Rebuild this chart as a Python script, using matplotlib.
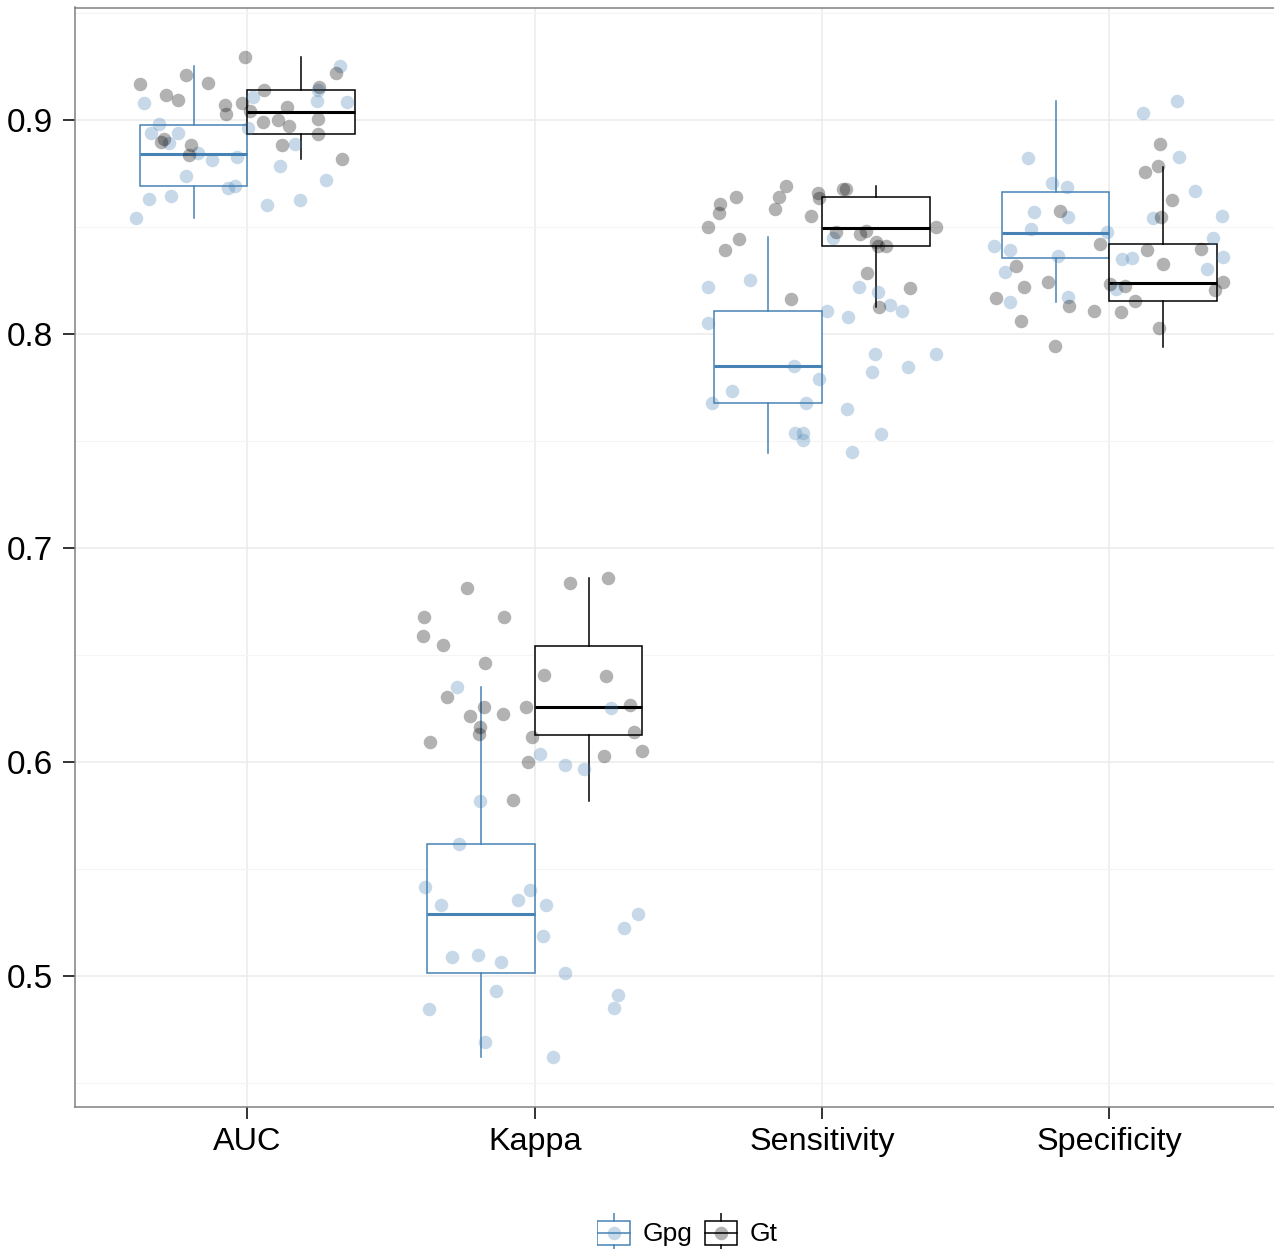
import numpy as np
import matplotlib
matplotlib.use("Agg")
import matplotlib.pyplot as plt
from matplotlib.patches import Rectangle

plt.rcParams["font.family"] = ["Liberation Sans", "DejaVu Sans"]

metrics = ["AUC", "Kappa", "Sensitivity", "Specificity"]
groups = ["Gpg", "Gt"]

# resampled values (25 per metric and group)
gpg_auc = [0.9081, 0.8980, 0.8938, 0.8938, 0.8891, 0.8844, 0.8813, 0.8826, 0.8738, 0.8629,
           0.8646, 0.8543, 0.8684, 0.8693, 0.8603, 0.8626, 0.8720, 0.8785, 0.8886, 0.8961,
           0.9109, 0.9090, 0.9140, 0.9086, 0.9252]
gt_auc = [0.9167, 0.9210, 0.9172, 0.9296, 0.9117, 0.9093, 0.9070, 0.9028, 0.9081, 0.9043,
          0.9140, 0.9059, 0.8991, 0.9000, 0.8972, 0.9156, 0.9218, 0.9005, 0.8935, 0.8883,
          0.8819, 0.8911, 0.8896, 0.8883, 0.8836]
gpg_kappa = [0.6352, 0.6036, 0.5986, 0.5966, 0.6254, 0.5819, 0.5618, 0.5414, 0.5330, 0.5355,
             0.5402, 0.5330, 0.5186, 0.5089, 0.5100, 0.5064, 0.5015, 0.4928, 0.4844, 0.4690,
             0.4621, 0.5291, 0.5223, 0.4910, 0.4852]
gt_kappa = [0.6815, 0.6679, 0.6679, 0.6589, 0.6545, 0.6463, 0.6304, 0.6215, 0.6258, 0.6224,
            0.6258, 0.6162, 0.6129, 0.6092, 0.6115, 0.6000, 0.5822, 0.6838, 0.6858, 0.6407,
            0.6402, 0.6265, 0.6140, 0.6028, 0.6051]
gpg_sens = [0.8447, 0.8221, 0.8252, 0.8050, 0.8221, 0.8195, 0.8136, 0.8107, 0.8106, 0.8078,
            0.7907, 0.7907, 0.7847, 0.7821, 0.7850, 0.7791, 0.7735, 0.7679, 0.7679, 0.7648,
            0.7536, 0.7536, 0.7505, 0.7533, 0.7447]
gt_sens = [0.8693, 0.8639, 0.8606, 0.8567, 0.8639, 0.8586, 0.8499, 0.8444, 0.8391, 0.8550,
           0.8657, 0.8637, 0.8676, 0.8676, 0.8478, 0.8466, 0.8481, 0.8431, 0.8413, 0.8411,
           0.8499, 0.8286, 0.8215, 0.8128, 0.8162]
gpg_spec = [0.9031, 0.9090, 0.8829, 0.8821, 0.8668, 0.8707, 0.8686, 0.8571, 0.8548, 0.8489,
            0.8478, 0.8543, 0.8553, 0.8447, 0.8413, 0.8393, 0.8364, 0.8350, 0.8357, 0.8358,
            0.8304, 0.8291, 0.8151, 0.8174, 0.8209]
gt_spec = [0.8886, 0.8785, 0.8756, 0.8626, 0.8545, 0.8573, 0.8421, 0.8319, 0.8391, 0.8399,
           0.8329, 0.8242, 0.8218, 0.8167, 0.8132, 0.8109, 0.8061, 0.7944, 0.8232, 0.8224,
           0.8154, 0.8103, 0.8029, 0.8242, 0.8206]

# horizontal jitter of each point (in category units), as seen in the picture
gpg_auc_jit = [-0.359, -0.309, -0.335, -0.243, -0.274, -0.173, -0.123, -0.036, -0.213, -0.344,
               -0.265, -0.387, -0.069, -0.043, 0.067, 0.183, 0.274, 0.114, 0.167, 0.001,
               0.018, 0.243, 0.245, 0.347, 0.324]
gt_auc_jit = [-0.373, -0.213, -0.138, -0.007, -0.285, -0.240, -0.077, -0.073, -0.018, 0.010,
              0.057, 0.138, 0.053, 0.107, 0.144, 0.248, 0.309, 0.244, 0.245, 0.121,
              0.330, -0.289, -0.300, -0.196, -0.202]
gpg_kappa_jit = [-0.269, 0.017, 0.107, 0.170, 0.265, -0.191, -0.264, -0.382, -0.325, -0.058,
                 -0.017, 0.039, 0.030, -0.289, -0.198, -0.116, 0.104, -0.134, -0.369, -0.174,
                 0.065, 0.360, 0.309, 0.289, 0.275]
gt_kappa_jit = [-0.236, -0.386, -0.108, -0.388, -0.318, -0.174, -0.304, -0.226, -0.176, -0.111,
                -0.032, -0.191, -0.194, -0.363, -0.009, -0.024, -0.074, 0.123, 0.254, 0.031,
                0.248, 0.331, 0.347, 0.240, 0.373]
gpg_sens_jit = [0.037, -0.396, -0.251, -0.396, 0.129, 0.196, 0.237, 0.278, 0.018, 0.090,
                0.184, 0.397, 0.298, 0.175, -0.097, -0.009, -0.314, -0.382, -0.056, 0.087,
                -0.093, -0.065, -0.065, 0.205, 0.105]
gt_sens_jit = [-0.127, -0.299, -0.355, -0.360, -0.151, -0.163, -0.396, -0.288, -0.339, -0.038,
               -0.015, -0.009, 0.072, 0.084, 0.049, 0.132, 0.152, 0.188, 0.196, 0.222,
               0.396, 0.158, 0.307, 0.199, -0.108]
gpg_spec_jit = [0.117, 0.237, 0.243, -0.282, 0.299, -0.201, -0.149, -0.263, -0.143, -0.273,
                -0.009, 0.151, 0.391, 0.360, -0.400, -0.346, -0.178, 0.044, 0.078, 0.394,
                0.339, -0.362, -0.346, -0.144, 0.023]
gt_spec_jit = [0.175, 0.170, 0.124, 0.217, 0.179, -0.171, -0.031, -0.325, 0.132, 0.318,
               0.188, -0.212, -0.298, -0.394, -0.142, -0.052, -0.306, -0.191, 0.003, 0.056,
               0.088, 0.039, 0.172, 0.394, 0.369]

# box statistics per metric: lower whisker, q1, median, q3, upper whisker
gpg_whislo = [0.8543, 0.4621, 0.7445, 0.8148]
gpg_q1 = [0.8692, 0.5015, 0.7676, 0.8354]
gpg_med = [0.8843, 0.5290, 0.7850, 0.8473]
gpg_q3 = [0.8975, 0.5618, 0.8106, 0.8665]
gpg_whishi = [0.9252, 0.6352, 0.8452, 0.9090]
gt_whislo = [0.8818, 0.5819, 0.8128, 0.7941]
gt_q1 = [0.8933, 0.6128, 0.8410, 0.8153]
gt_med = [0.9039, 0.6258, 0.8495, 0.8238]
gt_q3 = [0.9139, 0.6543, 0.8639, 0.8421]
gt_whishi = [0.9293, 0.6858, 0.8692, 0.8782]

gpg_vals = [gpg_auc, gpg_kappa, gpg_sens, gpg_spec]
gt_vals = [gt_auc, gt_kappa, gt_sens, gt_spec]
gpg_jit = [gpg_auc_jit, gpg_kappa_jit, gpg_sens_jit, gpg_spec_jit]
gt_jit = [gt_auc_jit, gt_kappa_jit, gt_sens_jit, gt_spec_jit]

blue = "#4682B4"
dark = "black"

W, H = 1274, 1249
fig = plt.figure(figsize=(W / 100, H / 100), dpi=100)
ax = fig.add_axes([75 / W, (H - 1106.5) / H, 1206.8 / W, (1106.5 - 7.5) / H])

xpos = np.arange(1, len(metrics) + 1)


def box_stats(lo, q1, med, q3, hi):
    return [dict(whislo=a, q1=b, med=c, q3=d, whishi=e, fliers=[])
            for a, b, c, d, e in zip(lo, q1, med, q3, hi)]


for stats, offset, col in [
        (box_stats(gpg_whislo, gpg_q1, gpg_med, gpg_q3, gpg_whishi), -0.1875, blue),
        (box_stats(gt_whislo, gt_q1, gt_med, gt_q3, gt_whishi), 0.1875, dark)]:
    ax.bxp(stats, positions=xpos + offset, widths=0.375, showcaps=False,
           showfliers=False, patch_artist=True,
           boxprops=dict(facecolor="white", edgecolor=col, linewidth=1.1),
           whiskerprops=dict(color=col, linewidth=1.1),
           medianprops=dict(color=col, linewidth=2.2),
           zorder=2)

for i in range(len(metrics)):
    ax.scatter(xpos[i] + np.array(gpg_jit[i]), gpg_vals[i], s=95, color=blue,
               alpha=0.3, linewidths=0, zorder=3)
    ax.scatter(xpos[i] + np.array(gt_jit[i]), gt_vals[i], s=95, color=dark,
               alpha=0.3, linewidths=0, zorder=3)

ax.set_xlim(0.4, 4.6)
ax.set_ylim(0.43902, 0.95257)
ax.set_xticks(xpos)
ax.set_xticklabels(metrics)
ax.set_yticks([0.5, 0.6, 0.7, 0.8, 0.9])
ax.set_yticklabels(["0.5", "0.6", "0.7", "0.8", "0.9"])
ax.set_yticks([0.45, 0.55, 0.65, 0.75, 0.85, 0.95], minor=True)
ax.tick_params(axis="both", which="major", length=8.5, width=1.4, color="#333333")
ax.tick_params(axis="x", labelsize=23.3, pad=6)
ax.tick_params(axis="y", labelsize=24, pad=7.5)
ax.tick_params(axis="y", which="minor", length=0)
ax.grid(True, which="major", color="#ebebeb", linewidth=1.1, zorder=0)
ax.grid(True, which="minor", axis="y", color="#f5f5f5", linewidth=0.8, zorder=0)
ax.set_axisbelow(True)
for sp in ax.spines.values():
    sp.set_color("#808080")
    sp.set_linewidth(1.1)

# legend drawn by hand at the bottom
for x0, col, lab, tx in [(596.7, blue, "Gpg", 643), (704.0, dark, "Gt", 750)]:
    kax = fig.add_axes([x0 / W, 0, 34 / W, 36 / H])
    kax.set_xlim(0, 1)
    kax.set_ylim(0, 1)
    kax.axis("off")
    kax.add_patch(Rectangle((0.02, 0.111), 0.96, 0.675, facecolor="white",
                            edgecolor=col, linewidth=1.1))
    kax.plot([0.02, 0.98], [0.453, 0.453], color=col, linewidth=1.1)
    kax.plot([0.5, 0.5], [0.786, 1.0], color=col, linewidth=1.1)
    kax.plot([0.5, 0.5], [0.0, 0.111], color=col, linewidth=1.1)
    kax.scatter([0.5], [0.453], s=95, color=col, alpha=0.3, linewidths=0)
    fig.text(tx / W, (H - 1234) / H, lab, fontsize=19, va="center", ha="left")

fig.savefig("out.png", dpi=100)
